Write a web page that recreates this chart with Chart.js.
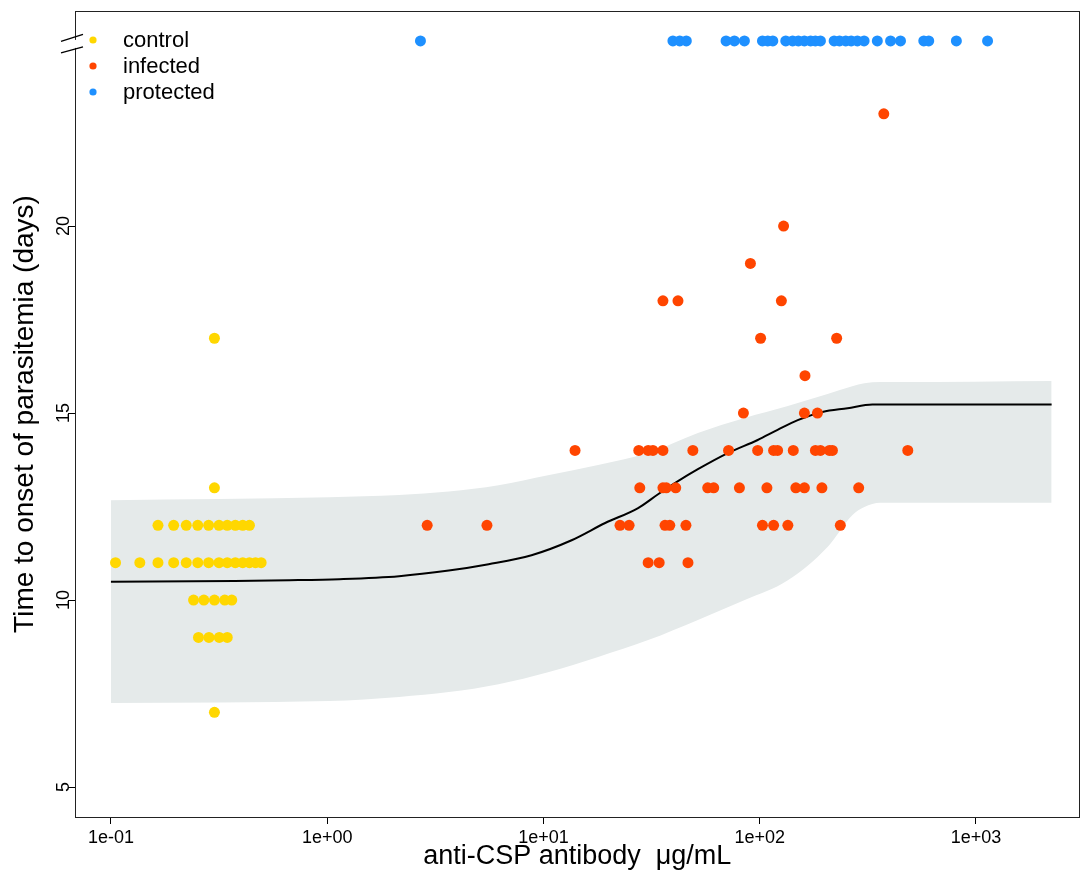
<!DOCTYPE html>
<html><head><meta charset="utf-8">
<script src="https://cdn.jsdelivr.net/npm/chart.js@4.4.0/dist/chart.umd.min.js"></script>
<style>html,body{margin:0;padding:0;background:#fff}#wrap{width:1085px;height:873px}</style>
</head><body><div id="wrap"><canvas id="c" width="1085" height="873"></canvas></div>
<script>
// ---- data (antibody in µg/mL, days to parasitemia) ----
const controlAb = [0.301, 0.301,
  0.165, 0.195, 0.223, 0.252, 0.283, 0.316, 0.345, 0.376, 0.407, 0.437,
  0.105, 0.136, 0.165, 0.195, 0.223, 0.252, 0.283, 0.316, 0.345, 0.376, 0.407, 0.437, 0.466, 0.495,
  0.241, 0.269, 0.301, 0.336, 0.362,
  0.254, 0.284, 0.317, 0.345,
  0.301];
const controlDays = [17, 13,
  12, 12, 12, 12, 12, 12, 12, 12, 12, 12,
  11, 11, 11, 11, 11, 11, 11, 11, 11, 11, 11, 11, 11, 11,
  10, 10, 10, 10, 10,
  9, 9, 9, 9,
  7];

const infectedAb = [375, 129, 90.6, 35.7, 41.9, 126, 101, 227, 162, 84.1, 161, 185,
  14.0, 27.6, 30.5, 32.1, 35.7, 49.1, 71.8, 97.9, 116, 121, 143, 181, 191, 210, 217, 484,
  27.9, 35.7, 37.0, 40.9, 57.5, 61.3, 80.6, 108, 147, 161, 194, 287,
  2.90, 5.48, 22.6, 24.9, 36.5, 38.4, 45.6, 103, 116, 135, 236,
  30.5, 34.3, 46.6];
const infectedDays = [23, 20, 19, 18, 18, 18, 17, 17, 16, 15, 15, 15,
  14, 14, 14, 14, 14, 14, 14, 14, 14, 14, 14, 14, 14, 14, 14, 14,
  13, 13, 13, 13, 13, 13, 13, 13, 13, 13, 13, 13,
  12, 12, 12, 12, 12, 12, 12, 12, 12, 12, 12,
  11, 11, 11];

const protectedAb = [2.70, 39.7, 42.7, 45.8, 69.9, 76.4, 85.0, 103, 109, 115, 132, 142, 151, 161,
  172, 181, 191, 221, 234, 250, 265, 283, 304, 350, 403, 448, 574, 605, 812, 1132];
const PROTECTED_DAYS = 24.95; // plotted above the axis break
const protectedDays = protectedAb.map(() => PROTECTED_DAYS);

const fitAb = [0.1, 0.373, 0.668, 1.14, 2.15, 3.65, 5.58, 8.81, 13.5, 19.3, 27.4, 33.9, 41.9, 51.8, 71.2, 97.9, 121, 150, 195, 255, 332, 2239];
const fitDays = [10.49, 10.51, 10.53, 10.56, 10.64, 10.79, 10.96, 11.20, 11.60, 12.06, 12.46, 12.83, 13.18, 13.50, 13.93, 14.28, 14.55, 14.81, 15.03, 15.13, 15.23, 15.23];

const bandAb = [0.1, 1.02, 2.15, 3.65, 6.20, 10.5, 17.9, 30.5, 51.8, 85.3, 135, 206, 268, 305, 361, 432, 2239];
const bandUpper = [12.67, 12.75, 12.81, 12.90, 13.07, 13.34, 13.61, 13.93, 14.47, 14.87, 15.19, 15.51, 15.72, 15.80, 15.83, 15.83, 15.86];
const bandLower = [7.25, 7.30, 7.41, 7.54, 7.75, 8.07, 8.48, 8.93, 9.47, 10.0, 10.53, 11.42, 12.27, 12.49, 12.60, 12.60, 12.60];

const xTicks = [0.1, 1, 10, 100, 1000];
const yTicks = [5, 10, 15, 20];
const seriesNames = ['control', 'infected', 'protected'];
const xTitle = 'anti-CSP antibody  \u03BCg/mL';
const yTitle = 'Time to onset of parasitemia (days)';

// ---- helpers ----
const pts = (xs, ys) => xs.map((x, i) => ({x: x, y: ys[i]}));
function fmtExp(v) {
  const e = Math.round(Math.log10(v));
  const sign = e < 0 ? '-' : '+';
  const a = Math.abs(e);
  return '1e' + sign + (a < 10 ? '0' + a : a);
}
const FONT = 'Liberation Sans, Arial, sans-serif';
const COLORS = {control: '#FFD700', infected: '#FF4500', protected: '#1E90FF'};
const BAND = '#E5EAEA';

const framePlugin = {
  id: 'frame',
  afterDraw(chart) {
    const ctx = chart.ctx, a = chart.chartArea, ys = chart.scales.y;
    ctx.save();
    ctx.strokeStyle = '#222';
    ctx.lineWidth = 1;
    ctx.strokeRect(Math.round(a.left) + 0.5, Math.round(a.top) + 0.5, Math.round(a.right - a.left) - 1, Math.round(a.bottom - a.top));
    // axis break marks
    const yb = ys.getPixelForValue(24.87);
    const L = Math.round(a.left);
    ctx.fillStyle = '#fff';
    ctx.fillRect(L - 1, yb - 4, 3, 8);
    ctx.strokeStyle = '#000';
    ctx.lineWidth = 1.3;
    ctx.beginPath();
    ctx.moveTo(L - 14, yb - 2.5); ctx.lineTo(L + 8, yb - 9.5);
    ctx.moveTo(L - 14, yb + 9); ctx.lineTo(L + 8, yb + 3);
    ctx.stroke();
    // legend
    ctx.font = '22px ' + FONT;
    ctx.textBaseline = 'middle';
    ctx.textAlign = 'left';
    seriesNames.forEach((n, i) => {
      const cy = 40 + 26 * i;
      ctx.fillStyle = COLORS[n];
      ctx.beginPath(); ctx.arc(93, cy, 3.6, 0, Math.PI * 2); ctx.fill();
      ctx.fillStyle = '#000';
      ctx.fillText(n, 123, cy + 1);
    });
    ctx.restore();
  }
};

new Chart(document.getElementById('c'), {
  type: 'scatter',
  data: {
    datasets: [
      {label: 'control', data: pts(controlAb, controlDays), backgroundColor: COLORS.control, pointRadius: 5.5, borderWidth: 0, order: 0},
      {label: 'infected', data: pts(infectedAb, infectedDays), backgroundColor: COLORS.infected, pointRadius: 5.5, borderWidth: 0, order: 0},
      {label: 'protected', data: pts(protectedAb, protectedDays), backgroundColor: COLORS.protected, pointRadius: 5.5, borderWidth: 0, order: 0},
      {label: 'fit', type: 'line', data: pts(fitAb, fitDays), borderColor: '#000', borderWidth: 2, pointRadius: 0, fill: false, cubicInterpolationMode: 'monotone', order: 1},
      {label: 'upper', type: 'line', data: pts(bandAb, bandUpper), borderWidth: 0, borderColor: BAND, backgroundColor: BAND, pointRadius: 0, fill: '+1', cubicInterpolationMode: 'monotone', order: 2},
      {label: 'lower', type: 'line', data: pts(bandAb, bandLower), borderWidth: 0, borderColor: BAND, backgroundColor: BAND, pointRadius: 0, fill: false, cubicInterpolationMode: 'monotone', order: 3}
    ]
  },
  options: {
    responsive: false,
    animation: false,
    events: [],
    layout: {padding: {top: 11, right: 2, left: 0, bottom: 0}},
    plugins: {legend: {display: false}, tooltip: {enabled: false}},
    scales: {
      x: {
        type: 'logarithmic', min: 0.0682, max: 3013,
        afterFit: s => { s.height = 56; },
        afterBuildTicks: s => { s.ticks = xTicks.map(v => ({value: v})); },
        ticks: {callback: v => fmtExp(v), font: {family: FONT, size: 18}, color: '#000', padding: 3, autoSkip: false, maxRotation: 0, minRotation: 0},
        grid: {drawOnChartArea: false, drawTicks: true, tickLength: 7, color: '#000'},
        border: {display: false},
        title: {display: true, text: xTitle, font: {family: FONT, size: 27}, color: '#000', padding: {top: 0, bottom: 0}}
      },
      y: {
        type: 'linear', min: 4.2, max: 25.75,
        afterFit: s => { s.width = 75; },
        afterBuildTicks: s => { s.ticks = yTicks.map(v => ({value: v})); },
        ticks: {font: {family: FONT, size: 18}, color: '#000', minRotation: 90, maxRotation: 90, crossAlign: 'center', padding: -6},
        grid: {drawOnChartArea: false, drawTicks: true, tickLength: 7, color: '#000'},
        border: {display: false},
        title: {display: true, text: yTitle, font: {family: FONT, size: 28}, color: '#000', padding: {top: 8, bottom: 0}}
      }
    }
  },
  plugins: [framePlugin]
});
</script></body></html>
